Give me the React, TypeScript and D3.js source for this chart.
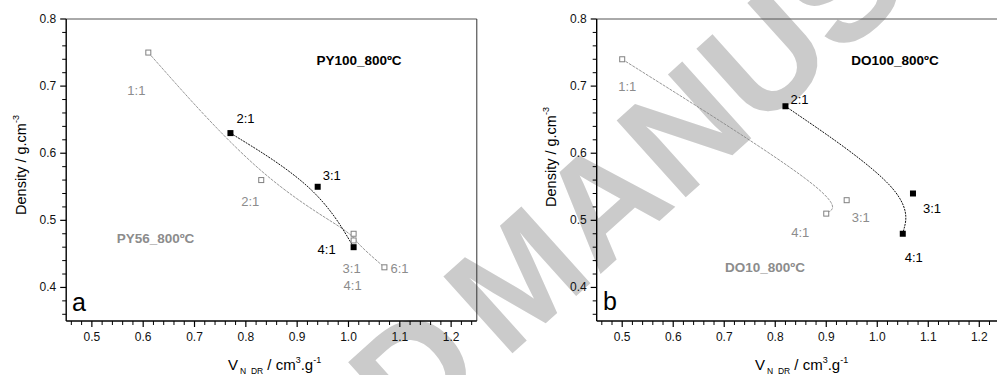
import React from "react";
import * as d3 from "d3";

// ---- data ----
const pyBlackX = [0.77, 0.94, 1.01];
const pyBlackY = [0.63, 0.55, 0.46];
const pyBlackLabels = ["2:1", "3:1", "4:1"];

const pyGrayX = [0.61, 0.83, 1.01, 1.01, 1.07];
const pyGrayY = [0.75, 0.56, 0.48, 0.47, 0.43];
const pyGrayLabels = ["1:1", "2:1", "3:1", "4:1", "6:1"];

const doBlackX = [0.82, 1.07, 1.05];
const doBlackY = [0.67, 0.54, 0.48];
const doBlackLabels = ["2:1", "3:1", "4:1"];

const doGrayX = [0.5, 0.94, 0.9];
const doGrayY = [0.74, 0.53, 0.51];
const doGrayLabels = ["1:1", "3:1", "4:1"];

const xMajorTicks = [0.5, 0.6, 0.7, 0.8, 0.9, 1.0, 1.1, 1.2];
const yMajorTicks = [0.4, 0.5, 0.6, 0.7, 0.8];

// ---- layout (not data) ----
const W = 997;
const H = 375;
const FONT = "'Liberation Sans', Arial, Helvetica, sans-serif";
const GRAY = "#8c8c8c";

type Pt = { x: number; y: number; label: string };
const zip = (xs: number[], ys: number[], ls: string[]): Pt[] =>
  xs.map((x, i) => ({ x, y: ys[i], label: ls[i] }));

interface PanelProps {
  x0: number;
  x1: number;
  letter: string;
  letterPos: [number, number];
  black: Pt[];
  gray: Pt[];
  blackOff: [number, number][];
  grayOff: [number, number][];
  blackTitle: string;
  blackTitlePos: [number, number];
  grayTitle: string;
  grayTitlePos: [number, number];
  yLabelPos: [number, number];
  xLabelX: number;
}

function Panel(p: PanelProps) {
  const x = d3.scaleLinear().domain([0.45, 1.25]).range([p.x0, p.x1]);
  const y = d3.scaleLinear().domain([0.35, 0.8]).range([321, 19]);
  const yTop = y(0.8);
  const yBot = y(0.35);
  const xMinor = d3.range(23, 63).map((v) => v * 0.02).filter((v) => !xMajorTicks.some((m) => Math.abs(m - v) < 1e-6));
  const yMinor = d3.range(18, 40).map((v) => v * 0.02).filter((v) => !yMajorTicks.some((m) => Math.abs(m - v) < 1e-6));
  const line = d3
    .line<Pt>()
    .x((d) => x(d.x))
    .y((d) => y(d.y))
    .curve(d3.curveBasis);

  return (
    <g>
      {/* frame */}
      <line x1={p.x0} x2={p.x1} y1={yTop} y2={yTop} stroke="#555" strokeWidth={1} />
      <line x1={p.x1} x2={p.x1} y1={yTop} y2={yBot} stroke="#333" strokeWidth={1} />
      {/* curves */}
      <path d={line(p.gray) || ""} fill="none" stroke="#8a8a8a" strokeWidth={0.9} strokeDasharray="3,1" />
      <path d={line(p.black) || ""} fill="none" stroke="#111" strokeWidth={1} strokeDasharray="2,1" />
      {/* markers */}
      {p.gray.map((d, i) => (
        <rect key={"g" + i} x={x(d.x) - 2.5} y={y(d.y) - 2.5} width={5} height={5} fill="#fff" stroke="#808080" strokeWidth={1} />
      ))}
      {p.black.map((d, i) => (
        <rect key={"b" + i} x={x(d.x) - 3} y={y(d.y) - 3} width={6} height={6} fill="#000" />
      ))}
      {/* point labels */}
      {p.gray.map((d, i) => (
        <text key={"gl" + i} x={x(d.x) + p.grayOff[i][0]} y={y(d.y) + p.grayOff[i][1]} fontSize={13} fill={GRAY} fontFamily={FONT}>
          {d.label}
        </text>
      ))}
      {p.black.map((d, i) => (
        <text key={"bl" + i} x={x(d.x) + p.blackOff[i][0]} y={y(d.y) + p.blackOff[i][1]} fontSize={13} fill="#000" fontFamily={FONT}>
          {d.label}
        </text>
      ))}
      {/* series titles */}
      <text x={p.blackTitlePos[0]} y={p.blackTitlePos[1]} fontSize={13.5} fontWeight="bold" fill="#000" fontFamily={FONT} textAnchor="middle">
        {p.blackTitle}
      </text>
      <text x={p.grayTitlePos[0]} y={p.grayTitlePos[1]} fontSize={13.5} fontWeight="bold" fill={GRAY} fontFamily={FONT} textAnchor="middle">
        {p.grayTitle}
      </text>
      <text x={p.letterPos[0]} y={p.letterPos[1]} fontSize={25} fill="#000" fontFamily={FONT}>
        {p.letter}
      </text>
      {/* axes */}
      <line x1={p.x0} x2={p.x0} y1={yTop} y2={yBot} stroke="#000" strokeWidth={1.4} />
      <line x1={p.x0} x2={p.x1} y1={yBot} y2={yBot} stroke="#000" strokeWidth={1.4} />
      {yMajorTicks.map((v) => (
        <g key={"ym" + v}>
          <line x1={p.x0 - 6} x2={p.x0} y1={y(v)} y2={y(v)} stroke="#000" strokeWidth={1.2} />
          <text x={p.x0 - 10} y={y(v) + 4} fontSize={12} textAnchor="end" fontFamily={FONT} fill="#111">
            {v.toFixed(1)}
          </text>
        </g>
      ))}
      {yMinor.map((v) => (
        <line key={"yn" + v} x1={p.x0 - 4} x2={p.x0} y1={y(v)} y2={y(v)} stroke="#000" strokeWidth={1} />
      ))}
      {xMajorTicks.map((v) => (
        <g key={"xm" + v}>
          <line x1={x(v)} x2={x(v)} y1={yBot} y2={yBot + 6} stroke="#000" strokeWidth={1.2} />
          <text x={x(v)} y={yBot + 20} fontSize={12} textAnchor="middle" fontFamily={FONT} fill="#111">
            {v.toFixed(1)}
          </text>
        </g>
      ))}
      {xMinor.map((v) => (
        <line key={"xn" + v} x1={x(v)} x2={x(v)} y1={yBot} y2={yBot + 4} stroke="#000" strokeWidth={1} />
      ))}
      {/* axis titles */}
      <text
        transform={`translate(${p.yLabelPos[0]},${p.yLabelPos[1]}) rotate(-90)`}
        textAnchor="middle"
        fontSize={14.5}
        fontFamily={FONT}
        fill="#000"
      >
        Density / g.cm
        <tspan fontSize={9} dy={-7}>-3</tspan>
      </text>
      <text x={p.xLabelX} y={370} fontSize={15} fontFamily={FONT} fill="#000">
        V
        <tspan fontSize={8.5} dx={2} dy={4}>N_DR</tspan>
        <tspan fontSize={15} dy={-4}> / cm</tspan>
        <tspan fontSize={9} dy={-7}>3</tspan>
        <tspan fontSize={15} dy={7}>.g</tspan>
        <tspan fontSize={9} dy={-7}>-1</tspan>
      </text>
    </g>
  );
}

export default function App() {
  return (
    <svg width={W} height={H} viewBox={`0 0 ${W} ${H}`} style={{ position: "absolute", left: 0, top: 0, background: "#fff" }}>
      <rect x={0} y={0} width={W} height={H} fill="#fff" />
      {/* watermark */}
      <g transform="translate(505,360) rotate(-42)">
        <text x={0} y={0} fontSize={150} fontWeight="bold" fontFamily={FONT} fill="#cbcbcb">
          MANUSCRIPT
        </text>
        <text x={-20} y={0} fontSize={150} fontWeight="bold" fontFamily={FONT} fill="#cbcbcb" textAnchor="end">
          ACCEPTED
        </text>
      </g>
      <Panel
        x0={66.2}
        x1={476.8}
        letter="a"
        letterPos={[72, 311]}
        black={zip(pyBlackX, pyBlackY, pyBlackLabels)}
        gray={zip(pyGrayX, pyGrayY, pyGrayLabels)}
        blackOff={[
          [6, -10],
          [5, -7],
          [-36, 7],
        ]}
        grayOff={[
          [-21, 42],
          [-20, 26],
          [-11, 39],
          [-10, 50],
          [6, 6],
        ]}
        blackTitle="PY100_800ºC"
        blackTitlePos={[359, 65]}
        grayTitle="PY56_800ºC"
        grayTitlePos={[155.5, 243]}
        yLabelPos={[26, 165]}
        xLabelX={228}
      />
      <Panel
        x0={596.7}
        x1={1004.8}
        letter="b"
        letterPos={[603, 310]}
        black={zip(doBlackX, doBlackY, doBlackLabels)}
        gray={zip(doGrayX, doGrayY, doGrayLabels)}
        blackOff={[
          [5, -2],
          [10, 20],
          [2, 28],
        ]}
        grayOff={[
          [-4, 32],
          [5, 22],
          [-35, 23],
        ]}
        blackTitle="DO100_800ºC"
        blackTitlePos={[895, 65]}
        grayTitle="DO10_800ºC"
        grayTitlePos={[765, 272]}
        yLabelPos={[556, 157]}
        xLabelX={755}
      />
    </svg>
  );
}
